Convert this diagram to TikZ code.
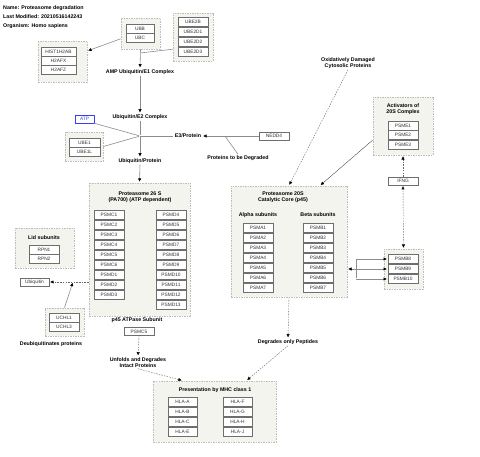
\documentclass[tikz,border=0pt]{standalone}
\usepackage{fontspec}
\setmainfont{Liberation Sans}
\usetikzlibrary{positioning,arrows.meta,fit}

\definecolor{grpfill}{HTML}{F4F4EE}
\definecolor{grpline}{HTML}{BDBDBD}
\definecolor{genline}{HTML}{6E6E6E}
\definecolor{wire}{HTML}{8C8C8C}
\definecolor{atpblue}{HTML}{3344EE}

\tikzset{
  gene/.style={draw=genline, fill=white, line width=0.5pt, minimum width=30pt, minimum height=9pt,
    inner sep=0pt, text=black!80, font=\fontsize{4.8}{5}\selectfont},
  grp/.style={draw=grpline, fill=grpfill, dash pattern=on 1.5pt off 1pt, line width=0.8pt, inner sep=0pt},
  lbl/.style={font=\fontsize{5.3}{6.2}\selectfont\bfseries, align=center, inner sep=1pt},
  hdr/.style={font=\fontsize{5.3}{6.2}\selectfont\bfseries, anchor=west, inner sep=0pt},
  conn/.style={draw=wire, line width=0.6pt},
  dconn/.style={draw=black!60, line width=0.4pt, dash pattern=on 1.5pt off 1.2pt},
  >={Triangle[length=3.2pt,width=3pt,black]}
}

\begin{document}
\begin{tikzpicture}[x=1pt, y=-1pt, node distance=10pt, on grid, shorten >= 1pt]
\useasboundingbox (0,0) rectangle (480,457);

% header
\node[hdr] (name) at (3,8) {Name: Proteasome degradation};
\node[hdr] (modified) at (3,17) {Last Modified: 20210516142243};
\node[hdr] (organism) at (3,26) {Organism: Homo sapiens};

% groups
\node[grp, fit={(38,41) (87,82)}] (ghist) {};
\node[grp, fit={(121,18) (160,49)}] (gubb) {};
\node[grp, fit={(173,13) (213,61)}] (gube2) {};
\node[grp, fit={(65,132) (103,161)}] (gube1) {};
\node[grp, fit={(89,183) (190,316)}] (g26s) {};
\node[grp, fit={(15,228) (74,268)}] (glid) {};
\node[grp, fit={(45,308) (84,336)}] (guchl) {};
\node[grp, fit={(231,186) (347,297)}] (g20s) {};
\node[grp, fit={(373,97) (433,155)}] (gact) {};
\node[grp, fit={(384,249) (423,289)}] (gpsmb8) {};
\node[grp, fit={(153,381) (276,442)}] (gmhc) {};

% histones
\node[gene, minimum width=35pt] (hist1h2ab) at (58.5,51.5) {HIST1H2AB};
\node[gene, minimum width=35pt] (h2afx) [below=9pt of hist1h2ab] {H2AFX};
\node[gene, minimum width=35pt] (h2afz) [below=9pt of h2afx] {H2AFZ};

% ubiquitin and E2 enzymes
\node[gene, minimum width=28pt] (ubb) at (140,28.5) {UBB};
\node[gene, minimum width=28pt] (ubc) [below=9pt of ubb] {UBC};
\node[gene] (ube2b) at (193,21.5) {UBE2B};
\node[gene] (ube2d1) [below=of ube2b] {UBE2D1};
\node[gene] (ube2d2) [below=of ube2d1] {UBE2D2};
\node[gene] (ube2d3) [below=of ube2d2] {UBE2D3};

\node[lbl] (amp) at (140,72) {AMP Ubiquitin/E1 Complex};
\node[lbl] (e2) at (140,117) {Ubiquitin/E2 Complex};
\node[gene, minimum width=19pt, minimum height=8pt, draw=atpblue, text=atpblue] (atp) at (84.5,119) {ATP};
\node[gene, minimum width=31pt] (ube1) at (84.5,142.5) {UBE1};
\node[gene, minimum width=31pt] (ube1l) [below=9pt of ube1] {UBE1L};
\node[lbl] (e3) at (188,136) {E3/Protein};
\node[gene, minimum height=8pt] (nedd4) at (274,136) {NEDD4};
\node[lbl] (ptbd) at (238,158) {Proteins to be Degraded};
\node[lbl] (ubprot) at (140,161) {Ubiquitin/Protein};

% proteasome 26S
\node[lbl] (t26s) at (140,197) {Proteasome 26 S\\(PA700) (ATP dependent)};
\node[gene] (psmc1) at (109,215) {PSMC1};
\node[gene] (psmc2) [below=of psmc1] {PSMC2};
\node[gene] (psmc3) [below=of psmc2] {PSMC3};
\node[gene] (psmc4) [below=of psmc3] {PSMC4};
\node[gene] (psmc5) [below=of psmc4] {PSMC5};
\node[gene] (psmc6) [below=of psmc5] {PSMC6};
\node[gene] (psmd1) [below=of psmc6] {PSMD1};
\node[gene] (psmd2) [below=of psmd1] {PSMD2};
\node[gene] (psmd3) [below=of psmd2] {PSMD3};
\node[gene] (psmd4) at (171,215) {PSMD4};
\node[gene] (psmd5) [below=of psmd4] {PSMD5};
\node[gene] (psmd6) [below=of psmd5] {PSMD6};
\node[gene] (psmd7) [below=of psmd6] {PSMD7};
\node[gene] (psmd8) [below=of psmd7] {PSMD8};
\node[gene] (psmd9) [below=of psmd8] {PSMD9};
\node[gene] (psmd10) [below=of psmd9] {PSMD10};
\node[gene] (psmd11) [below=of psmd10] {PSMD11};
\node[gene] (psmd12) [below=of psmd11] {PSMD12};
\node[gene] (psmd13) [below=of psmd12] {PSMD13};
\node[lbl] (p45) at (137,320) {p45 ATPase Subunit};
\node[gene, minimum height=8pt] (p45psmc5) at (139,331.5) {PSMC5};
\node[lbl] (unfolds) at (138,362.5) {Unfolds and Degrades\\Intact Proteins};

% lid and deubiquitination
\node[lbl] (tlid) at (44,238) {Lid subunits};
\node[gene] (rpn1) at (44,249.5) {RPN1};
\node[gene] (rpn2) [below=9pt of rpn1] {RPN2};
\node[gene, minimum width=29pt, minimum height=8pt] (ubiq) at (34.5,282) {Ubiquitin};
\node[gene] (uchl1) at (64,317.5) {UCHL1};
\node[gene] (uchl3) [below=9.5pt of uchl1] {UCHL3};
\node[lbl] (deub) at (51,344) {Deubiquitinates proteins};

% proteasome 20S
\node[lbl] (t20s) at (283,197.5) {Proteasome 20S\\Catalytic Core (p45)};
\node[lbl] (alpha) at (258,215) {Alpha subunits};
\node[lbl] (beta) at (318,215) {Beta subunits};
\node[gene] (psma1) at (258,228) {PSMA1};
\node[gene] (psma2) [below=of psma1] {PSMA2};
\node[gene] (psma3) [below=of psma2] {PSMA3};
\node[gene] (psma4) [below=of psma3] {PSMA4};
\node[gene] (psma5) [below=of psma4] {PSMA5};
\node[gene] (psma6) [below=of psma5] {PSMA6};
\node[gene] (psma7) [below=of psma6] {PSMA7};
\node[gene] (psmb1) at (318,228) {PSMB1};
\node[gene] (psmb2) [below=of psmb1] {PSMB2};
\node[gene] (psmb3) [below=of psmb2] {PSMB3};
\node[gene] (psmb4) [below=of psmb3] {PSMB4};
\node[gene] (psmb5) [below=of psmb4] {PSMB5};
\node[gene] (psmb6) [below=of psmb5] {PSMB6};
\node[gene] (psmb7) [below=of psmb6] {PSMB7};
\node[lbl] (degr) at (288,342) {Degrades only Peptides};
\node[lbl] (oxid) at (348,63) {Oxidatively Damaged\\Cytosolic Proteins};

% activators and immunoproteasome
\node[lbl] (tact) at (403,109.5) {Activators of\\20S Complex};
\node[gene] (psme1) at (403,125.5) {PSME1};
\node[gene] (psme2) [below=9.5pt of psme1] {PSME2};
\node[gene] (psme3) [below=9.5pt of psme2] {PSME3};
\node[gene, minimum height=8pt] (ifng) at (403,181) {IFNG};
\node[gene] (psmb8) at (403,259) {PSMB8};
\node[gene] (psmb9) [below=of psmb8] {PSMB9};
\node[gene] (psmb10) [below=of psmb9] {PSMB10};

% MHC class 1
\node[lbl] (tmhc) at (215,390) {Presentation by MHC class 1};
\node[gene, minimum width=29pt] (hlaa) at (182.5,402) {HLA-A};
\node[gene, minimum width=29pt] (hlab) [below=of hlaa] {HLA-B};
\node[gene, minimum width=29pt] (hlac) [below=of hlab] {HLA-C};
\node[gene, minimum width=29pt] (hlae) [below=of hlac] {HLA-E};
\node[gene, minimum width=29pt] (hlaf) at (237.5,402) {HLA-F};
\node[gene, minimum width=29pt] (hlag) [below=of hlaf] {HLA-G};
\node[gene, minimum width=29pt] (hlah) [below=of hlag] {HLA-H};
\node[gene, minimum width=29pt] (hlaj) [below=of hlah] {HLA-J};

% junctions
\coordinate (j1) at (140,53);
\coordinate (j2) at (140,136);
\coordinate (j3) at (225,136);
\coordinate (j4) at (356,269);
\coordinate (j5) at (73,282);

\path[conn]	(gubb.south)	edge[->]	(amp.north)
			(gube2.211)		edge		(j1)
			(gubb.195)		edge[->]	(ghist.23)
			(amp.south)		edge[->]	(e2.north)
			(e2.south)		edge		(j2)
			(atp.south east) edge		(j2)
			(gube1.east)	edge		(j2)
			(j2)			edge		(e3.west)
							edge[->]	(ubprot.north)
			(nedd4.west)	edge[->]	(e3.east)
			(ptbd.north)	edge		(j3)
			(ubprot.south)	edge[->]	(g26s.north)
			(guchl.north)	edge[->]	(j5)
			(gact.205)		edge[->, line width=0.4pt, draw=black!70] (g20s.61)
			(j4)			edge[->]	(j4 -| g20s.east)
							edge[->]	(psmb9.west)
			(j4 |- psmb8.west) edge		(j4 |- psmb10.west)
							edge[->]	(psmb8.west)
			(j4 |- psmb10.west) edge[->] (psmb10.west);

\path[dconn, ->]	(g26s.west |- ubiq)	edge	(ubiq.east)
			(p45psmc5.south) edge	(unfolds.north)
			(unfolds.south)	edge	(gmhc.136)
			(g20s.south)	edge	(degr.north)
			(degr.south)	edge	(gmhc.44)
			(oxid.south)	edge	(g20s.north)
			(ifng.north)	edge	(gact.south)
			(ifng.south)	edge	(gpsmb8.north);
\end{tikzpicture}
\end{document}
